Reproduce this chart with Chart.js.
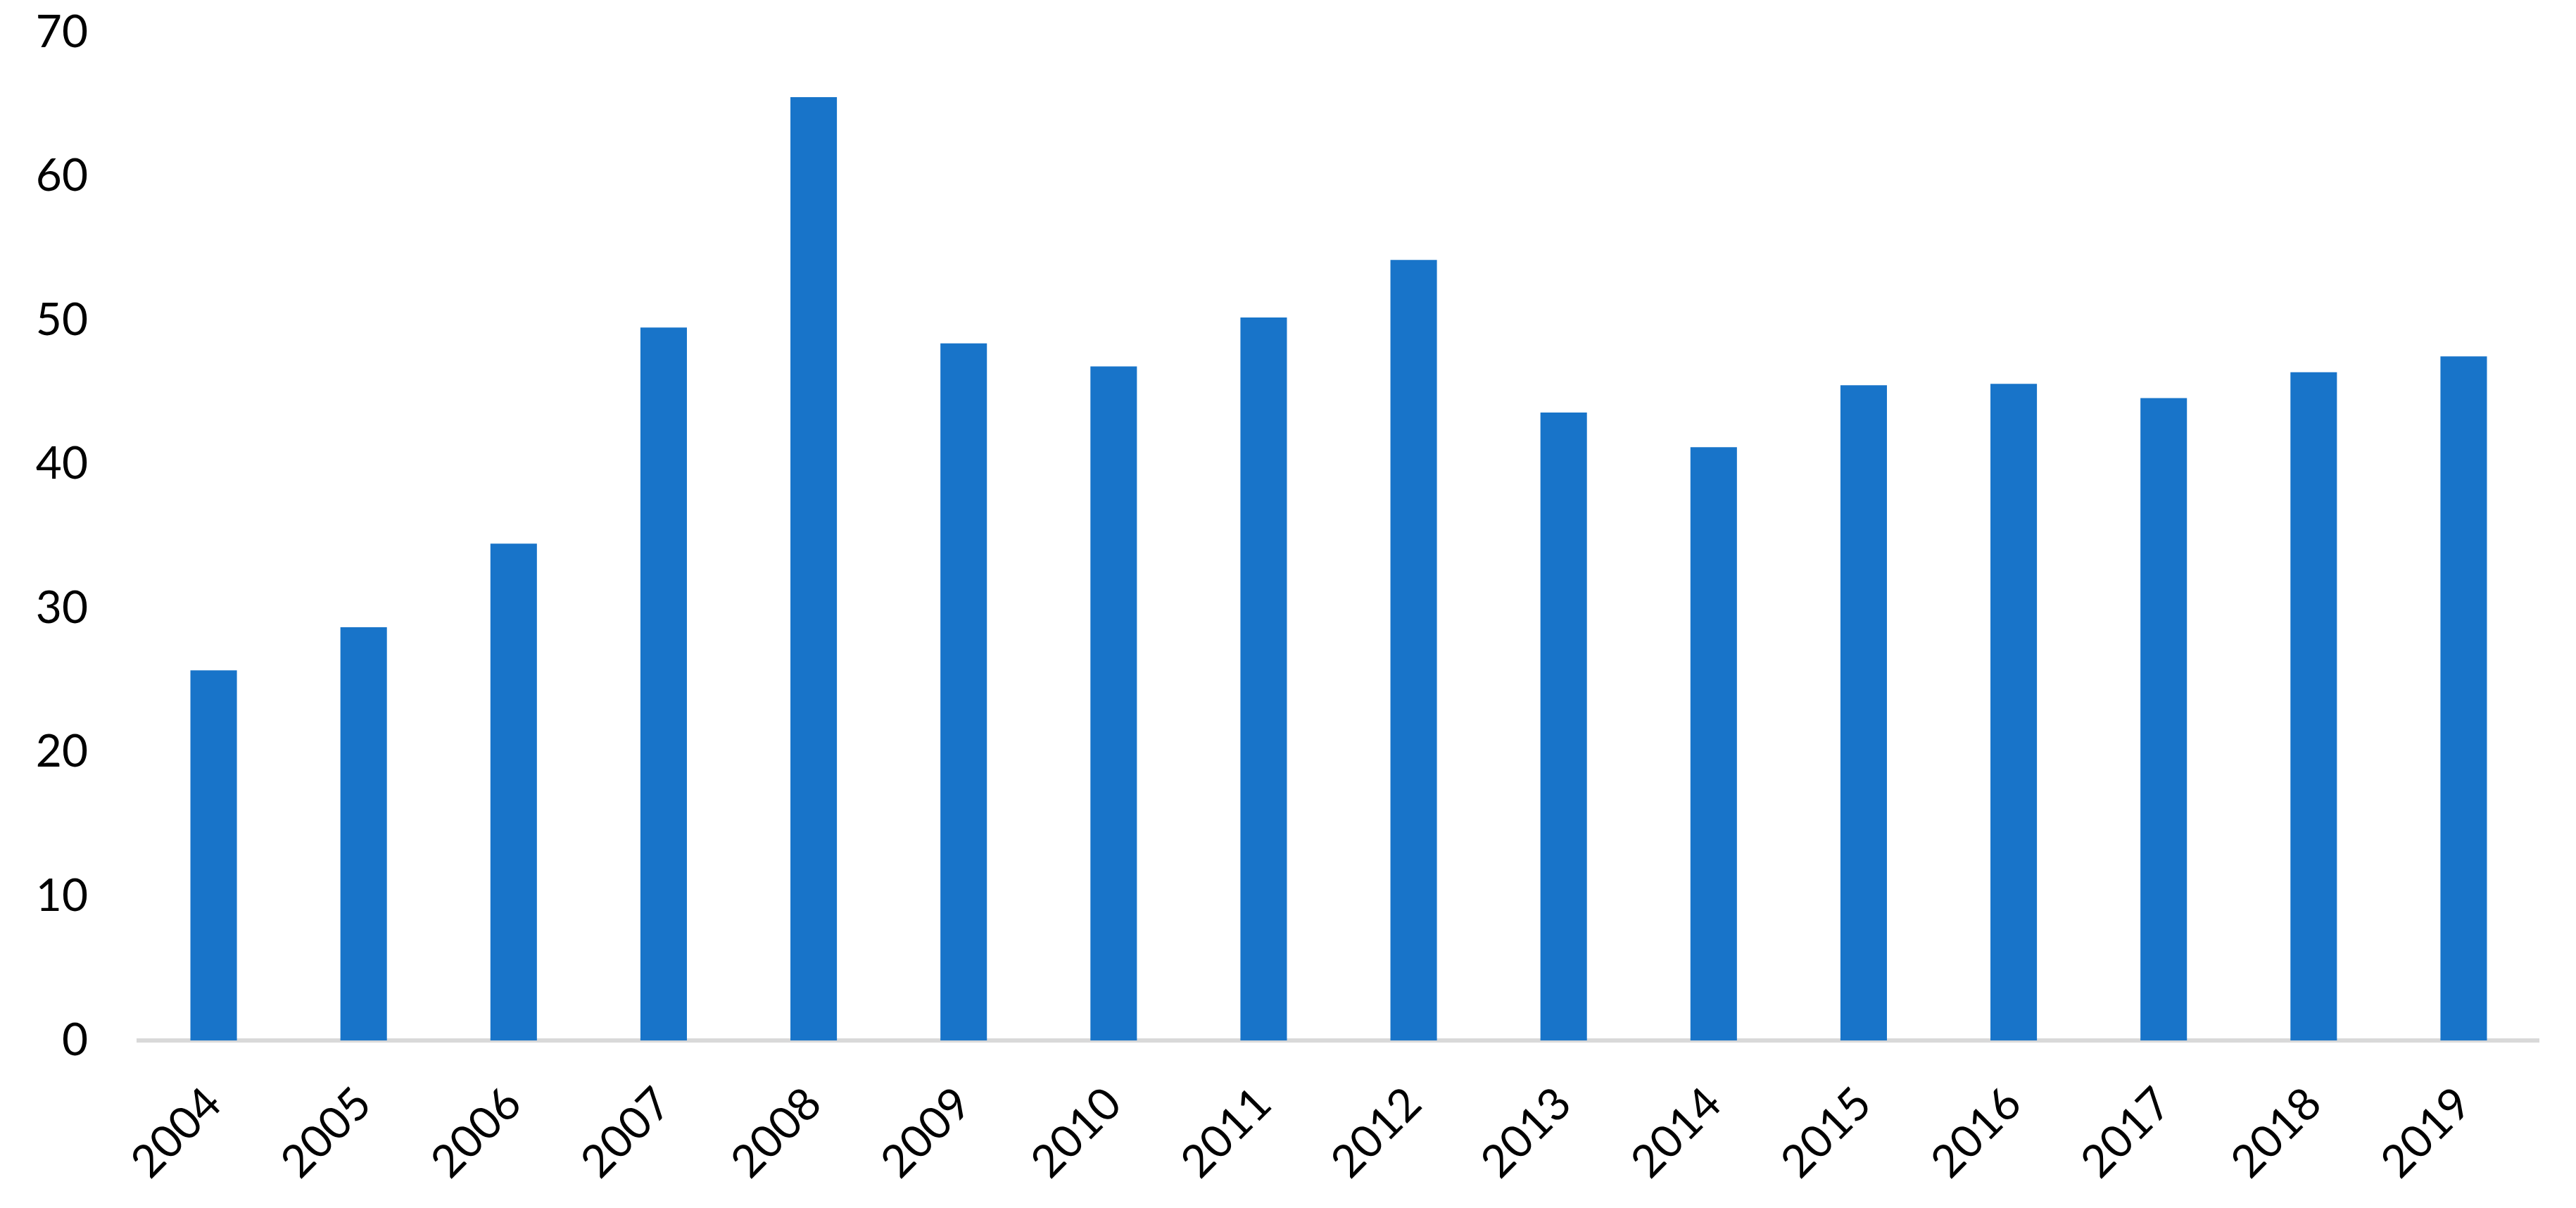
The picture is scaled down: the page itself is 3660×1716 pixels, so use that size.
<!DOCTYPE html>
<html>
<head>
<meta charset="utf-8">
<script src="https://cdn.jsdelivr.net/npm/chart.js@4.4.1/dist/chart.umd.min.js"></script>
<style>
  html, body { margin: 0; padding: 0; background: #fff; }
  #wrap { width: 3660px; height: 1716px; }
</style>
</head>
<body>
<div id="wrap"><canvas id="barChart" width="3660" height="1716"></canvas></div>
<script>
// data
const years = ["2004", "2005", "2006", "2007", "2008", "2009", "2010", "2011",
  "2012", "2013", "2014", "2015", "2016", "2017", "2018", "2019"];
const values = [25.7, 28.7, 34.5, 49.5, 65.5, 48.4, 46.8, 50.2,
  54.2, 43.6, 41.2, 45.5, 45.6, 44.6, 46.4, 47.5];
const yTicks = [0, 10, 20, 30, 40, 50, 60, 70];

const labelFont = { family: "Lato, 'Liberation Sans', sans-serif", size: 64 };

const ctx = document.getElementById("barChart").getContext("2d");
new Chart(ctx, {
  type: "bar",
  data: {
    labels: years,
    datasets: [
      {
        data: values,
        backgroundColor: "#1874C9",
        barPercentage: 0.62,
        categoryPercentage: 0.5,
      },
    ],
  },
  options: {
    responsive: false,
    animation: false,
    layout: { padding: { top: 46, right: 53, left: 0, bottom: 0 } },
    plugins: {
      legend: { display: false },
      tooltip: { enabled: false },
    },
    scales: {
      x: {
        grid: { display: false },
        border: { display: true, color: "#D9D9D9", width: 6 },
        ticks: {
          color: "#000",
          font: labelFont,
          minRotation: 45,
          maxRotation: 45,
          autoSkip: false,
          padding: 44,
        },
        afterFit: (scale) => { scale.height = 238; },
      },
      y: {
        min: 0,
        max: 70,
        grid: { display: false, drawTicks: false },
        border: { display: false },
        afterBuildTicks: (scale) => { scale.ticks = yTicks.map((v) => ({ value: v })); },
        ticks: {
          color: "#000",
          font: labelFont,
          padding: 72,
        },
        afterFit: (scale) => {
          scale.width = 197;
          // tick padding would otherwise push the plot top down
          scale.paddingTop = 0;
          scale.paddingBottom = 0;
        },
      },
    },
  },
});
</script>
</body>
</html>
